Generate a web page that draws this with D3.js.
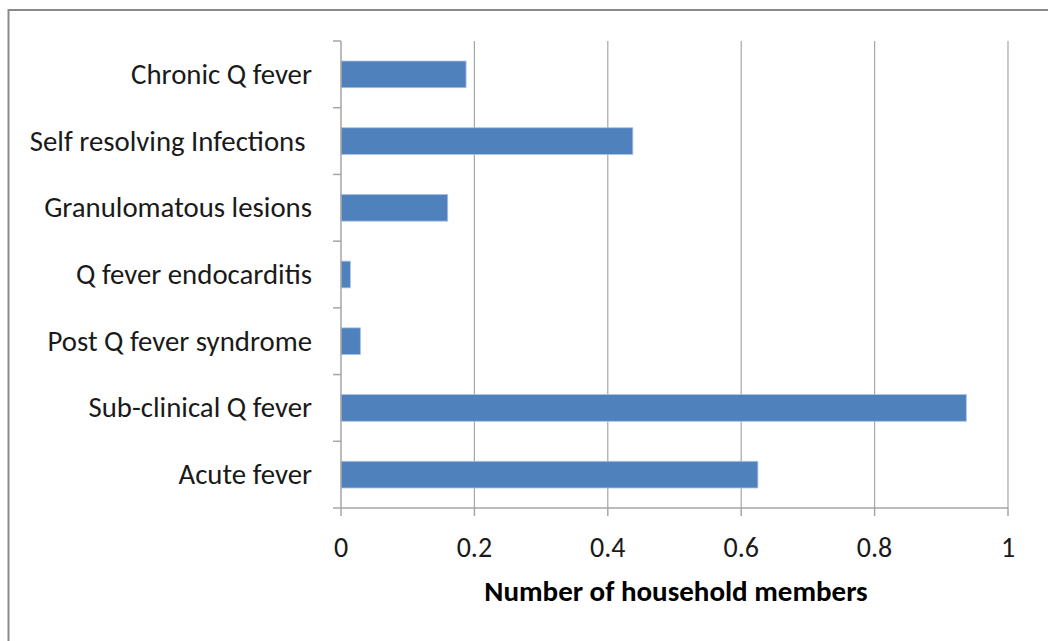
<!DOCTYPE html>
<html>
<head>
<meta charset="utf-8">
<script src="https://cdn.jsdelivr.net/npm/d3@7"></script>
<style>
  html, body { margin: 0; padding: 0; background: #fff; }
  svg { display: block; }
</style>
</head>
<body>
<svg id="chart" width="1048" height="641"></svg>
<script>
// Outcome categories, listed top to bottom
const categories = [
  "Chronic Q fever",
  "Self resolving Infections ",
  "Granulomatous lesions",
  "Q fever endocarditis",
  "Post Q fever syndrome",
  "Sub-clinical Q fever",
  "Acute fever"
];
// Number of household members per outcome
const values = [0.1875, 0.4375, 0.16, 0.014, 0.029, 0.9375, 0.625];
const xTicks = [0, 0.2, 0.4, 0.6, 0.8, 1];
const xTickLabels = ["0", "0.2", "0.4", "0.6", "0.8", "1"];
const xTitle = "Number of household members";

const svg = d3.select("#chart");
const font = "Carlito, Calibri, 'Liberation Sans', Arial, sans-serif";

// outer frame (top and left edges visible)
svg.append("path")
  .attr("d", "M8.5,700 V10 H1100")
  .attr("fill", "none")
  .attr("stroke", "#8a8a8a")
  .attr("stroke-width", 2);

const plot = { left: 341, right: 1008, top: 41, bottom: 508 };

const x = d3.scaleLinear().domain([0, 1]).range([plot.left, plot.right]);
const y = d3.scaleBand().domain(categories).range([plot.top, plot.bottom])
  .paddingInner(0.6).paddingOuter(0.3);
const yEdges = d3.scaleBand().domain(categories).range([plot.top, plot.bottom]);

// vertical gridlines
svg.append("g").selectAll("line").data(xTicks.slice(1)).join("line")
  .attr("x1", d => x(d)).attr("x2", d => x(d))
  .attr("y1", plot.top).attr("y2", plot.bottom)
  .attr("stroke", "#a6a6a6").attr("stroke-width", 1.2);

// bars
svg.append("g").selectAll("rect").data(categories).join("rect")
  .attr("x", x(0))
  .attr("y", d => y(d))
  .attr("width", (d, i) => x(values[i]) - x(0))
  .attr("height", y.bandwidth())
  .attr("fill", "#4f81bd")
  .attr("stroke", "#a9c1df")
  .attr("stroke-width", 0.8);

// y axis line + category ticks
const yAxis = svg.append("g");
yAxis.append("line")
  .attr("x1", plot.left).attr("x2", plot.left)
  .attr("y1", plot.top).attr("y2", plot.bottom)
  .attr("stroke", "#a6a6a6").attr("stroke-width", 1.5);
const edges = categories.map(c => yEdges(c)).concat([plot.bottom]);
yAxis.selectAll("line.tick").data(edges).join("line")
  .attr("class", "tick")
  .attr("x1", plot.left - 8).attr("x2", plot.left)
  .attr("y1", d => d).attr("y2", d => d)
  .attr("stroke", "#a6a6a6").attr("stroke-width", 1.5);
yAxis.selectAll("text").data(categories).join("text")
  .attr("x", 312)
  .attr("y", d => yEdges(d) + yEdges.bandwidth() / 2 + 9.5)
  .attr("text-anchor", "end")
  .attr("font-family", font)
  .attr("font-size", 28.8)
  .attr("fill", "#1a1a1a")
  .attr("xml:space", "preserve")
  .text(d => d);

// x axis
const xAxis = svg.append("g");
xAxis.append("line")
  .attr("x1", plot.left).attr("x2", plot.right)
  .attr("y1", plot.bottom).attr("y2", plot.bottom)
  .attr("stroke", "#a6a6a6").attr("stroke-width", 1.5);
xAxis.selectAll("line.tick").data(xTicks).join("line")
  .attr("class", "tick")
  .attr("x1", d => x(d)).attr("x2", d => x(d))
  .attr("y1", plot.bottom).attr("y2", plot.bottom + 8)
  .attr("stroke", "#a6a6a6").attr("stroke-width", 1.5);
xAxis.selectAll("text").data(xTicks).join("text")
  .attr("x", d => x(d))
  .attr("y", 557)
  .attr("text-anchor", "middle")
  .attr("font-family", font)
  .attr("font-size", 28)
  .attr("fill", "#1a1a1a")
  .text((d, i) => xTickLabels[i]);

svg.append("text")
  .attr("x", 676)
  .attr("y", 601)
  .attr("text-anchor", "middle")
  .attr("font-family", font)
  .attr("font-size", 29)
  .attr("font-weight", "bold")
  .attr("fill", "#000")
  .text(xTitle);
</script>
</body>
</html>
